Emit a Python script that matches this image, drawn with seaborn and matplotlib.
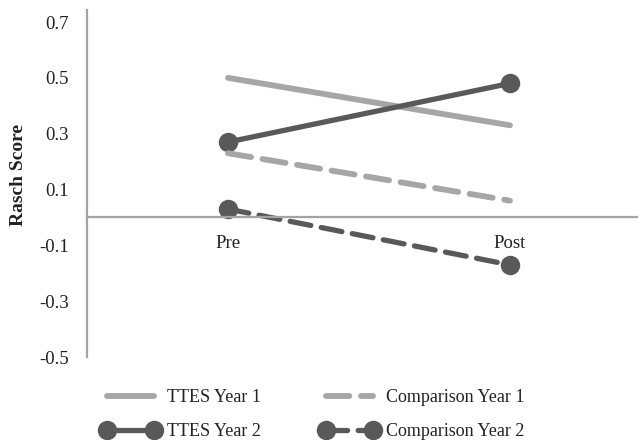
import matplotlib
matplotlib.use("Agg")
import matplotlib.pyplot as plt
import seaborn as sns
import pandas as pd

# Rasch scores before and after, per group
phases = ["Pre", "Post"]
ttes_year1 = [0.50, 0.33]
ttes_year2 = [0.27, 0.48]
comparison_year1 = [0.23, 0.06]
comparison_year2 = [0.03, -0.17]
y_ticks = [-0.5, -0.3, -0.1, 0.1, 0.3, 0.5, 0.7]

sns.set_style("white")
plt.rcParams["font.family"] = ["Liberation Serif", "DejaVu Serif"]

light = "#a6a6a6"
dark = "#595959"
axis_grey = "#a3a3a3"
text_col = "#222222"

fig = plt.figure(figsize=(6.38, 4.40), dpi=100)
ax = fig.add_axes([87 / 638, 1 - 357 / 440, 1 - 87 / 638, 347 / 440])

series = [
    ("TTES Year 1", ttes_year1, dict(color=light, lw=4.2, solid_capstyle="round")),
    ("TTES Year 2", ttes_year2, dict(color=dark, lw=3.8, marker="o", markersize=14,
                                      solid_capstyle="round")),
    ("Comparison Year 1", comparison_year1, dict(color=light, lw=4.2, dashes=(4, 2),
                                                  dash_capstyle="round")),
    ("Comparison Year 2", comparison_year2, dict(color=dark, lw=3.8, dashes=(4, 2),
                                                  marker="o", markersize=14,
                                                  dash_capstyle="round")),
]

for name, vals, style in series:
    df = pd.DataFrame({"phase": phases, "score": vals})
    sns.lineplot(data=df, x="phase", y="score", ax=ax, label=name,
                 markeredgewidth=0, sort=False, **style)

ax.set_ylim(-0.5, 0.743)
ax.set_xlim(-0.5, (638 - 228) / 282)
ax.set_yticks(y_ticks)
ax.set_yticklabels([f"{t:.1f}" for t in y_ticks])

for side in ("top", "right"):
    ax.spines[side].set_visible(False)
ax.spines["left"].set_color(axis_grey)
ax.spines["left"].set_linewidth(1.6)
ax.spines["bottom"].set_position(("data", 0))
ax.spines["bottom"].set_color(axis_grey)
ax.spines["bottom"].set_linewidth(1.6)

ax.tick_params(axis="y", length=0, pad=13, labelsize=13.5, labelcolor=text_col)
ax.tick_params(axis="x", length=0, pad=13, labelsize=13.5, labelcolor=text_col)

ax.set_xlabel("")
ax.set_ylabel("Rasch Score", fontsize=14, fontweight="bold", color=text_col)
ax.yaxis.set_label_coords(-0.108, 0.524)

ax.get_legend().remove()
handles, labels = ax.get_legend_handles_labels()
fig.legend(handles, labels, loc="upper left", bbox_to_anchor=(102 / 638, 1 - 389 / 440),
           ncol=2, frameon=False, fontsize=13, numpoints=2, handlelength=3.2,
           handletextpad=0.42, columnspacing=3.3, labelspacing=0.96,
           borderaxespad=0, borderpad=0, labelcolor=text_col)

fig.savefig("out.png", dpi=100)
